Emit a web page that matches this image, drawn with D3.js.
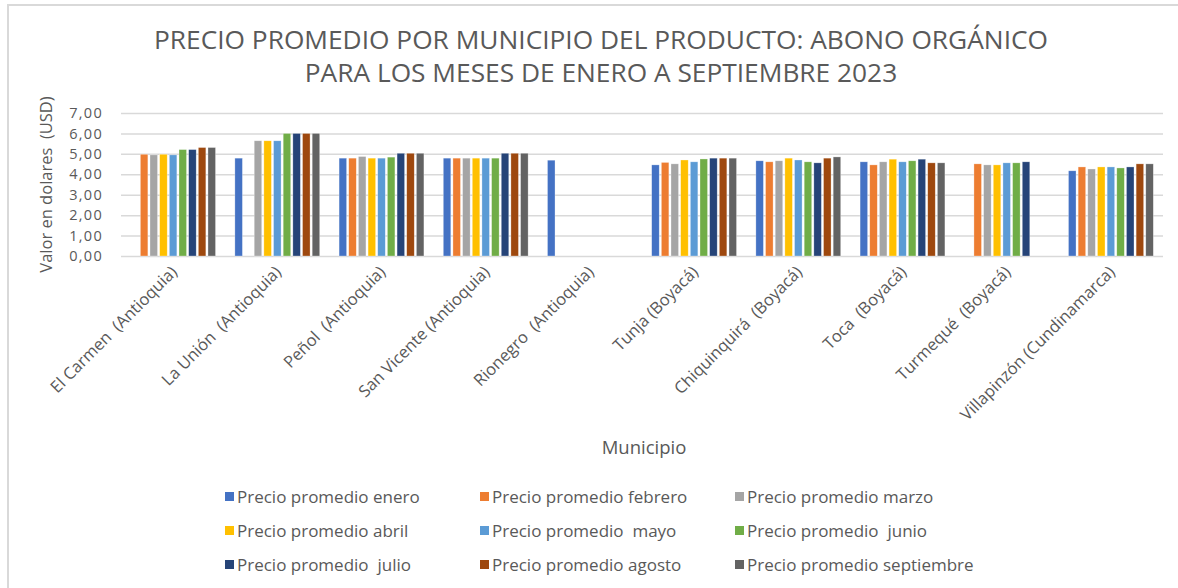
<!DOCTYPE html>
<html>
<head>
<meta charset="utf-8">
<script src="https://cdn.jsdelivr.net/npm/d3@7"></script>
<style>
  body { margin: 0; background: #fff; }
  svg { display: block; font-family: 'Open Sans', sans-serif; }
</style>
</head>
<body>
<svg id="chart" width="1178" height="588"></svg>
<script>
// municipalities on the x axis
const municipios = [
  'El Carmen  (Antioquia)', 'La Unión  (Antioquia)', 'Peñol  (Antioquia)',
  'San Vicente (Antioquia)', 'Rionegro  (Antioquia)', 'Tunja (Boyacá)',
  'Chiquinquirá  (Boyacá)', 'Toca  (Boyacá)', 'Turmequé  (Boyacá)',
  'Villapinzón (Cundinamarca)'
]

const series = [
  'Precio promedio enero', 'Precio promedio febrero', 'Precio promedio marzo',
  'Precio promedio abril', 'Precio promedio  mayo', 'Precio promedio  junio',
  'Precio promedio  julio', 'Precio promedio agosto', 'Precio promedio septiembre'
]

const colors = ['#4472c4', '#ed7d31', '#a5a5a5', '#ffc000', '#5b9bd5', '#70ad47', '#264478', '#9e480e', '#636363']

// one array per month, one value per municipio (null = no data)
const enero = [null, 4.79, 4.79, 4.79, 4.69, 4.46, 4.66, 4.61, null, 4.17]
const febrero = [4.98, null, 4.79, 4.79, null, 4.58, 4.61, 4.46, 4.51, 4.36]
const marzo = [4.95, 5.64, 4.87, 4.79, null, 4.51, 4.66, 4.61, 4.46, 4.26]
const abril = [4.98, 5.64, 4.79, 4.79, null, 4.70, 4.79, 4.74, 4.46, 4.36]
const mayo = [4.95, 5.64, 4.79, 4.79, null, 4.61, 4.70, 4.61, 4.56, 4.36]
const junio = [5.21, 6.00, 4.84, 4.79, null, 4.75, 4.61, 4.66, 4.56, 4.31]
const julio = [5.21, 6.00, 5.03, 5.03, null, 4.79, 4.56, 4.74, 4.61, 4.36]
const agosto = [5.31, 6.00, 5.03, 5.03, null, 4.79, 4.79, 4.56, null, 4.51]
const septiembre = [5.31, 6.00, 5.03, 5.03, null, 4.79, 4.85, 4.56, null, 4.51]

const yTicks = [0, 1, 2, 3, 4, 5, 6, 7]

const values = [enero, febrero, marzo, abril, mayo, junio, julio, agosto, septiembre]

const svg = d3.select('#chart')
const textColor = '#595959'
const gridColor = '#d9d9d9'
// keep double spaces visible in svg text
const keepSpaces = s => s.replace(/ {2}/g, ' \u00a0')

// chart frame
svg.append('rect')
  .attr('x', 8).attr('y', 5)
  .attr('width', 1180).attr('height', 600)
  .attr('fill', 'none')
  .attr('stroke', gridColor)
  .attr('stroke-width', 2)

// title
const title = svg.append('text')
  .attr('text-anchor', 'middle')
  .attr('fill', textColor)
  .style('font-size', '26.3px')
title.append('tspan').attr('x', 601).attr('y', 49)
  .text('PRECIO PROMEDIO POR MUNICIPIO DEL PRODUCTO: ABONO ORGÁNICO')
title.append('tspan').attr('x', 601).attr('y', 82)
  .text('PARA LOS MESES DE ENERO A SEPTIEMBRE 2023')

const plot = { left: 121, right: 1163, top: 113, bottom: 256 }

const x0 = d3.scaleBand()
  .domain(municipios)
  .range([plot.left, plot.right])
  .paddingInner(0.145)
  .paddingOuter(0.0725)

const x1 = d3.scaleBand()
  .domain(series)
  .range([0, x0.bandwidth()])
  .padding(0.22)

const y = d3.scaleLinear()
  .domain([0, 7])
  .range([plot.bottom, plot.top])

// gridlines
svg.append('g')
  .attr('transform', `translate(${plot.left},0)`)
  .call(d3.axisLeft(y).tickValues(yTicks).tickSize(-(plot.right - plot.left)).tickFormat(''))
  .call(g => g.select('.domain').remove())
  .call(g => g.selectAll('line').attr('stroke', gridColor).attr('stroke-width', 1.5))

// y tick labels
svg.append('g')
  .attr('transform', `translate(${plot.left - 18},0)`)
  .call(d3.axisLeft(y).tickValues(yTicks).tickSize(0).tickPadding(0)
    .tickFormat(d => d3.format('.2f')(d).replace('.', ',')))
  .call(g => g.select('.domain').remove())
  .call(g => g.selectAll('text')
    .attr('fill', textColor)
    .style('font-size', '14.5px')
    .style('letter-spacing', '1.3px')
    .style('font-family', "'Open Sans', sans-serif"))

// bars
const groups = svg.append('g').selectAll('g')
  .data(municipios)
  .join('g')
  .attr('transform', d => `translate(${x0(d)},0)`)

groups.selectAll('rect')
  .data((d, i) => series.map((s, j) => ({ s, j, v: values[j][i] })).filter(e => e.v !== null))
  .join('rect')
  .attr('x', d => x1(d.s))
  .attr('y', d => y(d.v))
  .attr('width', x1.bandwidth())
  .attr('height', d => y(0) - y(d.v))
  .attr('fill', d => colors[d.j])
  .attr('stroke', '#fff')
  .attr('stroke-opacity', 0.5)
  .attr('stroke-width', 0.6)

// x axis labels
svg.append('g')
  .attr('transform', `translate(0,${plot.bottom})`)
  .call(d3.axisBottom(x0).tickSize(0).tickPadding(0).tickFormat(keepSpaces))
  .call(g => g.select('.domain').remove())
  .call(g => g.selectAll('text')
    .attr('fill', textColor)
    .style('font-size', '16.5px')
    .style('font-family', "'Open Sans', sans-serif")
    .attr('text-anchor', 'end')
    .attr('dy', 0)
    .attr('transform', 'translate(5,17) rotate(-45)'))

// axis titles
svg.append('text')
  .attr('transform', `translate(52,${(plot.top + plot.bottom) / 2}) rotate(-90)`)
  .attr('text-anchor', 'middle')
  .attr('fill', textColor)
  .style('font-size', '16.5px')
  .text(keepSpaces('Valor en dolares  (USD)'))

svg.append('text')
  .attr('x', 644).attr('y', 454)
  .attr('text-anchor', 'middle')
  .attr('fill', textColor)
  .style('font-size', '18.5px')
  .text('Municipio')

// legend
const legend = svg.append('g').selectAll('g')
  .data(series)
  .join('g')
  .attr('transform', (d, i) => `translate(${225 + (i % 3) * 255},${497 + Math.floor(i / 3) * 34})`)

legend.append('rect')
  .attr('x', 0).attr('y', -5)
  .attr('width', 9).attr('height', 9)
  .attr('fill', (d, i) => colors[i])

legend.append('text')
  .attr('x', 12).attr('y', 6)
  .attr('fill', textColor)
  .style('font-size', '17px')
  .text(d => keepSpaces(d))
</script>
</body>
</html>
